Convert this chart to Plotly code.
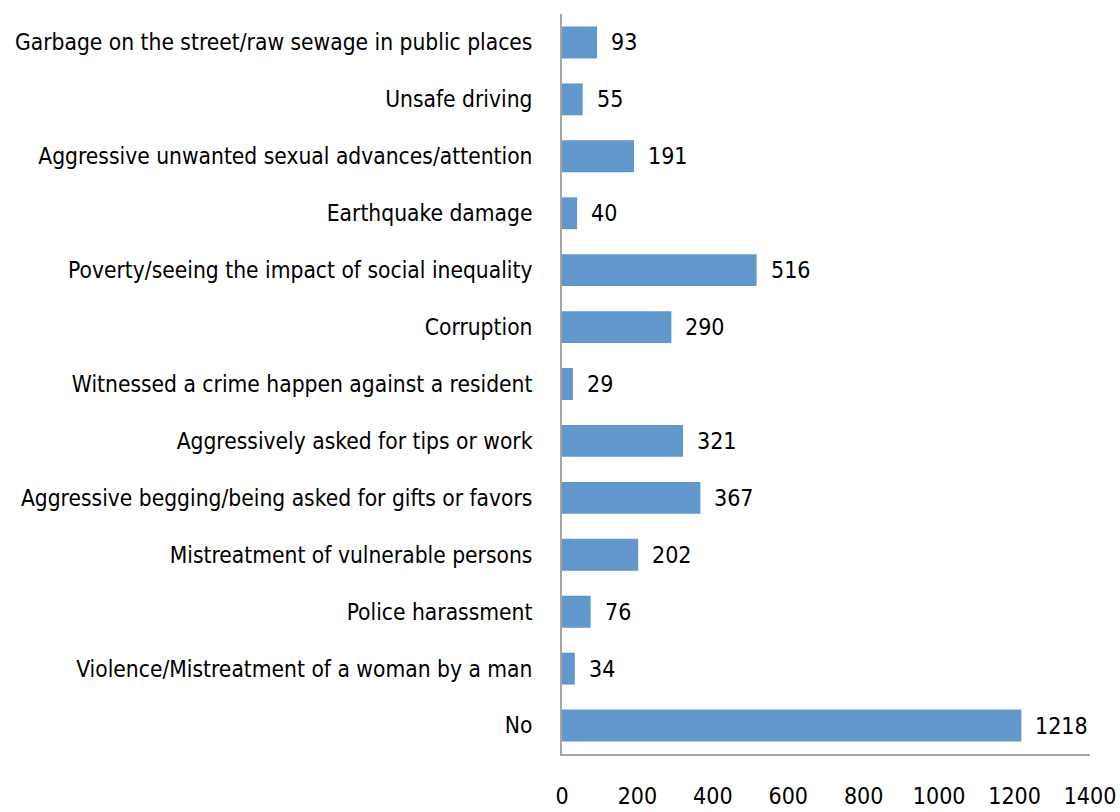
import plotly.graph_objects as go

categories = [
    "Garbage on the street/raw sewage in public places",
    "Unsafe driving",
    "Aggressive unwanted sexual advances/attention",
    "Earthquake damage",
    "Poverty/seeing the impact of social inequality",
    "Corruption",
    "Witnessed a crime happen against a resident",
    "Aggressively asked for tips or work",
    "Aggressive begging/being asked for gifts or favors",
    "Mistreatment of vulnerable persons",
    "Police harassment",
    "Violence/Mistreatment of a woman by a man",
    "No",
]
counts = [93, 55, 191, 40, 516, 290, 29, 321, 367, 202, 76, 34, 1218]
x_ticks = [0, 200, 400, 600, 800, 1000, 1200, 1400]

FONT = "DejaVu Sans Condensed, Liberation Sans Narrow, sans-serif"
BAR_COLOR = "#6197CB"
AXIS_COLOR = "#A6A6A6"

fig = go.Figure(
    go.Bar(
        x=counts,
        y=categories,
        orientation="h",
        marker=dict(color=BAR_COLOR, line=dict(width=0)),
        hoverinfo="x+y",
    )
)

# value labels placed just past the end of each bar
for cat, val in zip(categories, counts):
    fig.add_annotation(
        x=val, y=cat, text=str(val), showarrow=False,
        xanchor="left", xshift=12,
        font=dict(family=FONT, size=23, color="#000000"),
    )

fig.update_layout(
    width=1120, height=812,
    margin=dict(l=562, r=30, t=14, b=58),
    paper_bgcolor="white", plot_bgcolor="white",
    bargap=0.44,
    showlegend=False,
    font=dict(family=FONT, size=23, color="#000000"),
)
fig.update_xaxes(
    range=[0, 1400], tickvals=x_ticks, ticktext=[str(v) for v in x_ticks],
    showgrid=False, zeroline=False,
    showline=True, linecolor=AXIS_COLOR, linewidth=2,
    ticks="", ticklabelstandoff=20, automargin=False,
    tickfont=dict(size=23),
)
fig.update_yaxes(
    categoryorder="array", categoryarray=categories, autorange="reversed",
    showgrid=False, zeroline=False,
    showline=True, linecolor=AXIS_COLOR, linewidth=2,
    ticks="", ticklabelstandoff=23, automargin=False,
    tickfont=dict(size=22.6),
)

fig.write_html("out.html")
